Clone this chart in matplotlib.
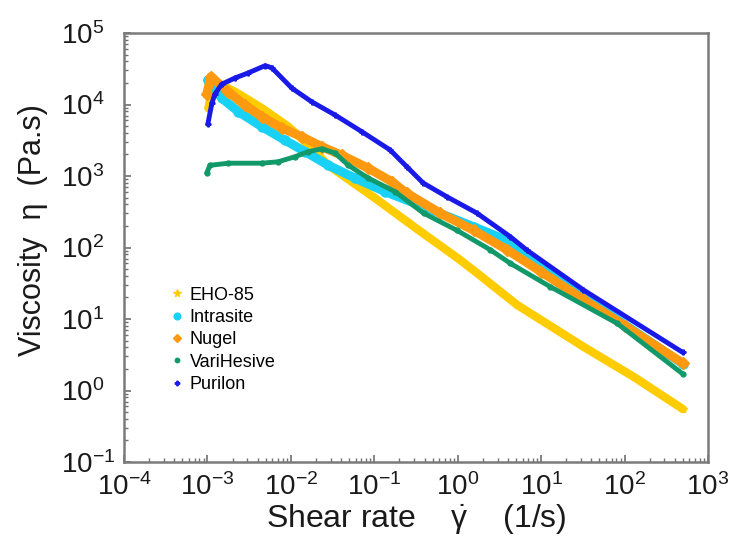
import matplotlib
matplotlib.use("Agg")
import matplotlib.pyplot as plt
from matplotlib.lines import Line2D
import numpy as np

plt.rcParams['font.family'] = ['Liberation Sans', 'DejaVu Sans']
plt.rcParams['mathtext.default'] = 'regular'

# ---- data (shear rate in 1/s, viscosity in Pa.s) ----
eho_x = [0.00103, 0.00112, 0.00123, 0.00214, 0.00448, 0.00933, 0.0148, 0.0282, 0.0537, 0.102, 0.316, 1.0, 1.70, 5.13, 32.4, 129, 500]
eho_y = [8900, 15800, 20900, 15100, 8900, 4900, 3020, 1410, 830, 490, 186, 71, 44, 15.8, 4.07, 1.55, 0.55]

intra_x = [0.00101, 0.00148, 0.00235, 0.00448, 0.00851, 0.0148, 0.0282, 0.0589, 0.135, 0.389, 1.55, 3.89, 32.4, 500]
intra_y = [21900, 12300, 7940, 4900, 3160, 2190, 1410, 933, 603, 372, 195, 126, 20.4, 2.35]

nugel_x = [0.00098, 0.0011, 0.00177, 0.00282, 0.00448, 0.00778, 0.0135, 0.0235, 0.0407, 0.0843, 0.162, 0.245, 0.617, 1.55, 3.89, 10.0, 32.4, 100, 500]
nugel_y = [13800, 24500, 15100, 9770, 6760, 4680, 3550, 2570, 1950, 1290, 832, 575, 302, 174, 93, 45.7, 18.6, 8.1, 2.4]

vari_x = [0.00098, 0.00107, 0.00178, 0.00448, 0.00703, 0.0112, 0.0162, 0.0235, 0.0339, 0.0489, 0.0849, 0.178, 0.389, 0.977, 2.45, 4.27, 12.9, 81.3, 500]
vari_y = [1100, 1410, 1510, 1510, 1580, 1860, 2190, 2400, 2090, 1410, 933, 603, 302, 174, 93, 60, 28.2, 8.7, 1.7]

puri_x = [0.00101, 0.00113, 0.00123, 0.00148, 0.00214, 0.00307, 0.00491, 0.0059, 0.0103, 0.0178, 0.0339, 0.0708, 0.155, 0.245, 0.385, 0.74, 1.69, 4.25, 6.73, 32.1, 500]
puri_y = [5280, 10400, 14000, 19200, 23500, 27600, 34900, 32700, 16900, 10900, 7130, 4170, 2310, 1350, 798, 513, 304, 142, 92, 25.5, 3.4]

x_ticks = [1e-4, 1e-3, 1e-2, 1e-1, 1e0, 1e1, 1e2, 1e3]
y_ticks = [1e-1, 1e0, 1e1, 1e2, 1e3, 1e4, 1e5]

labels = ['EHO-85', 'Intrasite', 'Nugel', 'VariHesive', 'Purilon']
colors = ['#FFCC00', '#19D1F5', '#FF9A10', '#12996A', '#1A1AE8']
markers = ['*', 'o', 'D', 'o', 'P']
widths = [6.0, 6.5, 6.5, 3.5, 3.5]
msizes = [7, 6, 5, 4, 4]
series = [(eho_x, eho_y), (intra_x, intra_y), (nugel_x, nugel_y), (vari_x, vari_y), (puri_x, puri_y)]

fig = plt.figure(figsize=(7.31, 5.42), dpi=100)
ax = fig.add_axes([124/731, 1-462/542, (708-124)/731, (462-33)/542])

for (x, y), c, m, w, ms in zip(series, colors, markers, widths, msizes):
    ax.plot(x, y, color=c, lw=w, marker=m, ms=w, mec=c, mfc=c,
            solid_joinstyle='round', solid_capstyle='round')

ax.set_xscale('log')
ax.set_yscale('log')
ax.set_xlim(1e-4, 1e3)
ax.set_ylim(1e-1, 1e5)

for s in ax.spines.values():
    s.set_color('#7a7a7a')
    s.set_linewidth(1.8)

ax.set_xticks(x_ticks)
ax.set_yticks(y_ticks)
ax.xaxis.set_minor_locator(matplotlib.ticker.LogLocator(base=10, subs=np.arange(2, 10), numticks=100))
ax.yaxis.set_minor_locator(matplotlib.ticker.LogLocator(base=10, subs=np.arange(2, 10), numticks=100))
ax.yaxis.set_minor_formatter(matplotlib.ticker.NullFormatter())
ax.xaxis.set_minor_formatter(matplotlib.ticker.NullFormatter())

ax.tick_params(which='both', direction='in', top=False, right=False,
               colors='#707070', labelcolor='#1a1a1a', labelsize=20)
ax.tick_params(which='major', length=5, width=1.2)
ax.tick_params(which='minor', length=3, width=1.0)
ax.tick_params(axis='x', which='major', pad=8)
ax.tick_params(axis='y', which='major', pad=45.5)
for lab in ax.get_yticklabels():
    lab.set_horizontalalignment('left')

ax.set_xlabel(r'Shear rate    $\dot{\gamma}$    (1/s)', fontsize=23, color='#1a1a1a')
ax.set_ylabel('Viscosity  \u03b7  (Pa.s)', fontsize=22, color='#1a1a1a')
ax.xaxis.set_label_coords(0.5, (462 - 503) / 429)
ax.yaxis.set_label_coords((48 - 124) / 584, 0.54)

handles = [Line2D([], [], color=c, marker=m, ls='none', ms=ms * 0.8, mec=c)
           for c, m, ms in zip(colors, markers, msizes)]
ax.legend(handles, labels, loc='upper left', bbox_to_anchor=(0.063, 0.43),
          frameon=False, fontsize=13, handlelength=0.8, handletextpad=0.3,
          labelspacing=0.3, borderpad=0)

fig.savefig('out.png', dpi=100)
